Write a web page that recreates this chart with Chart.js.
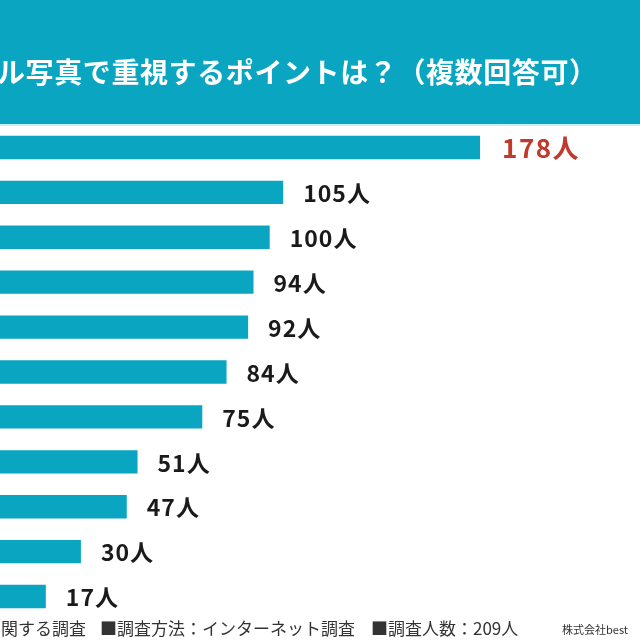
<!DOCTYPE html>
<html>
<head>
<meta charset="utf-8">
<script src="https://cdn.jsdelivr.net/npm/chart.js@4"></script>
<style>
  html, body { margin: 0; padding: 0; background: #fff; }
  #wrap { width: 640px; height: 640px; position: relative; }
</style>
</head>
<body>
<div id="wrap"><canvas id="chart" width="640" height="640"></canvas></div>
<script>
// category names are cut off in the picture, so only ranks are kept
var categories = ['1', '2', '3', '4', '5', '6', '7', '8', '9', '10', '11'];
var values = [178, 105, 100, 94, 92, 84, 75, 51, 47, 30, 17];
var unit = '人';
var title = 'ル写真で重視するポイントは？（複数回答可）';
var footerParts = ['関する調査', '■調査方法：インターネット調査', '■調査人数：209人'];
var company = '株式会社best';

var teal = '#0aa5c1';
var font = '"Noto Sans CJK JP", "Noto Sans", sans-serif';

var decor = {
    id: 'decor',
    beforeDraw: function (chart) {
        var ctx = chart.ctx;
        ctx.save();
        ctx.fillStyle = teal;
        ctx.fillRect(0, 0, 640, 124);
        ctx.fillStyle = '#c8edf4';
        ctx.fillRect(0, 124, 640, 2);
        ctx.fillStyle = '#fff';
        ctx.font = 'bold 28px ' + font;
        ctx.letterSpacing = '0.6px';
        ctx.textBaseline = 'middle';
        ctx.textAlign = 'left';
        ctx.fillText(title, -3, 72);
        ctx.restore();
    },
    afterDraw: function (chart) {
        var ctx = chart.ctx;
        var meta = chart.getDatasetMeta(0);
        ctx.save();
        ctx.textBaseline = 'middle';
        ctx.textAlign = 'left';
        meta.data.forEach(function (bar, i) {
            if (i == 0) {
                ctx.font = 'bold 26px ' + font;
                ctx.letterSpacing = '1.5px';
                ctx.fillStyle = '#c0392b';
                ctx.fillText(values[i] + unit, bar.x + 22, bar.y + 1);
            } else {
                ctx.font = 'bold 23px ' + font;
                ctx.letterSpacing = '1px';
                ctx.fillStyle = '#1a1a1a';
                ctx.fillText(values[i] + unit, bar.x + 20, bar.y + 1);
            }
        });
        // footer
        ctx.letterSpacing = '0px';
        ctx.fillStyle = '#333';
        ctx.font = '17px ' + font;
        var xs = [1, 100, 371];
        footerParts.forEach(function (t, i) {
            ctx.fillText(t, xs[i], 629);
        });
        ctx.font = '11px ' + font;
        ctx.fillText(company, 562, 630);
        ctx.restore();
    }
};

var ctx = document.getElementById('chart').getContext('2d');
var myChart = new Chart(ctx, {
    type: 'bar',
    data: {
        labels: categories,
        datasets: [{
            data: values,
            backgroundColor: teal,
            borderWidth: 0,
            categoryPercentage: 1,
            barPercentage: 0.52
        }]
    },
    options: {
        indexAxis: 'y',
        responsive: false,
        animation: false,
        layout: { padding: { top: 125, bottom: 21, left: 0, right: 0 } },
        plugins: {
            legend: { display: false },
            tooltip: { enabled: false },
            title: { display: false }
        },
        scales: {
            x: { display: false, min: 0, max: 237.3 },
            y: { display: false }
        }
    },
    plugins: [decor]
});
</script>
</body>
</html>
